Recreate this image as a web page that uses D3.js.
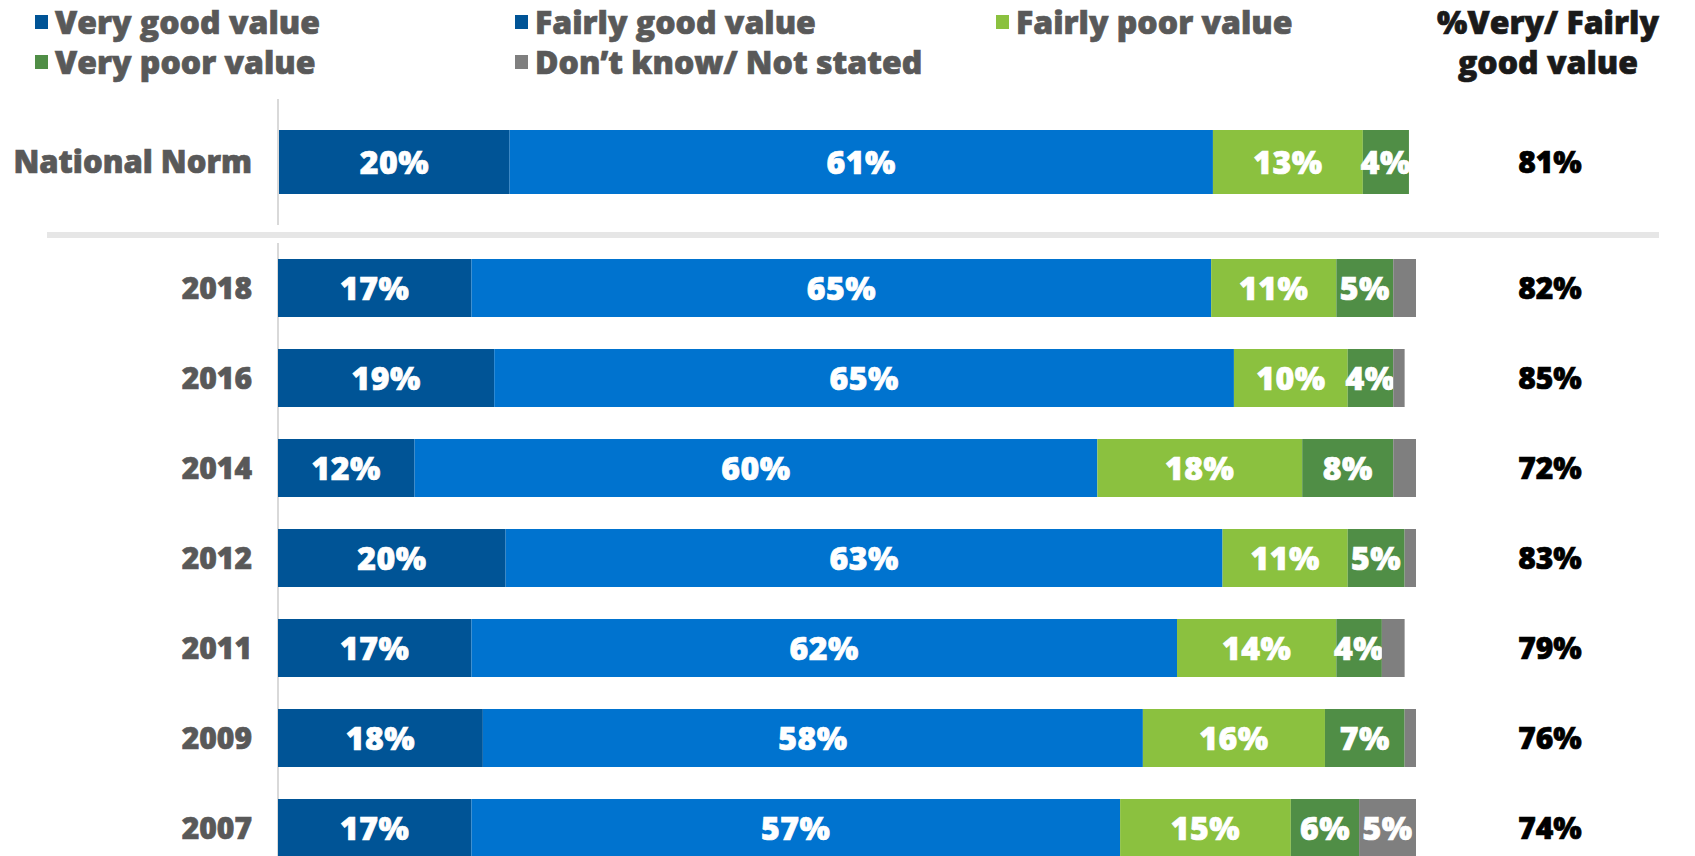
<!DOCTYPE html>
<html>
<head>
<meta charset="utf-8">
<script src="https://cdn.jsdelivr.net/npm/d3@7"></script>
<style>
  body { margin: 0; background: #fff; }
  svg { display: block; font-family: "Open Sans", Lato, sans-serif; font-weight: 800; }
</style>
</head>
<body>
<svg id="chart" width="1695" height="856"></svg>
<script>
// rows, top to bottom
var categories = ['National Norm', '2018', '2016', '2014', '2012', '2011', '2009', '2007']
var seriesNames = ['Very good value', 'Fairly good value', 'Fairly poor value', 'Very poor value', 'Don’t know/ Not stated']

// % per series, same order as categories
var veryGood = [20, 17, 19, 12, 20, 17, 18, 17]
var fairlyGood = [61, 65, 65, 60, 63, 62, 58, 57]
var fairlyPoor = [13, 11, 10, 18, 11, 14, 16, 15]
var veryPoor = [4, 5, 4, 8, 5, 4, 7, 6]
var dontKnow = [0, 2, 1, 2, 1, 2, 1, 5]

// right hand column
var netGoodTitle = ['%Very/ Fairly', 'good value']
var netGood = [81, 82, 85, 72, 83, 79, 76, 74]

;(function () {
  var width = 1695
  var height = 856
  var colors = ['#005496', '#0073cf', '#8bc13f', '#508e46', '#7f7f7f']
  // the legend swatch for "fairly good" is the dark blue in the original
  var legendColors = ['#005496', '#005496', '#8bc13f', '#508e46', '#7f7f7f']

  var rows = categories.map(function (c, i) {
    return {cat: c, vals: [veryGood[i], fairlyGood[i], fairlyPoor[i], veryPoor[i], dontKnow[i]], net: netGood[i]}
  })

  var svg = d3.select('#chart')

  // heavier look, closer to the black weight of the original
  function heavy (sel, col) {
    sel.attr('fill', col)
        .attr('stroke', col)
        .attr('stroke-width', 0.7)
  }

  /*
      --------------------------------------
      Scales
  */
  var x = d3.scaleLinear()
      .domain([0, 100])
      .range([278, 1416])

  // the norm row was pasted from another chart, slightly wider scale
  var xNorm = d3.scaleLinear()
      .domain([0, 100])
      .range([279, 1432])

  var yNorm = d3.scaleBand()
      .domain(categories.slice(0, 1))
      .range([130, 194])

  var yYears = d3.scaleBand()
      .domain(categories.slice(1))
      .range([259, 857])
      .paddingInner(32 / 90)
      .paddingOuter(0)

  function isNorm (cat) { return cat === categories[0] }
  function yPos (cat) { return isNorm(cat) ? yNorm(cat) : yYears(cat) }
  function bandH (cat) { return isNorm(cat) ? yNorm.bandwidth() : yYears.bandwidth() }

  /*
      --------------------------------------
      Axis line + separator
  */
  svg.append('line')
      .attr('x1', 278).attr('x2', 278)
      .attr('y1', 99).attr('y2', 225)
      .attr('stroke', '#d9d9d9')
      .attr('stroke-width', 2)

  svg.append('line')
      .attr('x1', 278).attr('x2', 278)
      .attr('y1', 243).attr('y2', height)
      .attr('stroke', '#d9d9d9')
      .attr('stroke-width', 2)

  svg.append('rect')
      .attr('x', 47)
      .attr('y', 232)
      .attr('width', 1612)
      .attr('height', 6)
      .attr('fill', '#e6e6e6')

  /*
      --------------------------------------
      Stacked bars
  */
  var rowG = svg.selectAll('.row')
      .data(rows)
      .enter()
      .append('g')
      .classed('row', true)
      .attr('transform', d => `translate(0,${yPos(d.cat)})`)

  var segs = rowG.selectAll('.seg')
      .data(function (d) {
        var acc = 0
        var sx = isNorm(d.cat) ? xNorm : x
        return d.vals.map(function (v, k) {
          var s = {k: k, a: sx(acc), b: sx(acc + v), v: v, h: bandH(d.cat)}
          acc += v
          return s
        })
      })
      .enter()
      .append('g')
      .classed('seg', true)

  segs.append('rect')
      .attr('x', d => d.a)
      .attr('y', 0)
      .attr('width', d => d.b - d.a)
      .attr('height', d => d.h)
      .attr('fill', d => colors[d.k])

  segs.filter(d => d.v >= 3)
      .append('text')
      .attr('x', d => (d.a + d.b) / 2)
      .attr('y', d => d.h / 2)
      .attr('dy', '0.36em')
      .attr('text-anchor', 'middle')
      .style('font-size', '32px')
      .style('letter-spacing', '0.5px')
      .call(heavy, '#fff')
      .text(d => d.v + '%')

  // category labels
  rowG.append('text')
      .attr('x', 252)
      .attr('y', d => bandH(d.cat) / 2)
      .attr('dy', '0.36em')
      .attr('text-anchor', 'end')
      .style('font-size', d => isNorm(d.cat) ? '31px' : '30px')
      .call(heavy, '#595959')
      .text(d => d.cat)

  // net good column
  rowG.append('text')
      .attr('x', 1550)
      .attr('y', d => bandH(d.cat) / 2)
      .attr('dy', '0.36em')
      .attr('text-anchor', 'middle')
      .style('font-size', '30px')
      .call(heavy, '#000')
      .text(d => d.net + '%')

  svg.selectAll('.nethead')
      .data(netGoodTitle)
      .enter()
      .append('text')
      .classed('nethead', true)
      .attr('x', 1548)
      .attr('y', (d, i) => 22 + i * 40)
      .attr('dy', '0.36em')
      .attr('text-anchor', 'middle')
      .style('font-size', '32px')
      .call(heavy, '#1a1a1a')
      .text(d => d)

  /*
      --------------------------------------
      Legend
  */
  var legendPos = [[35, 22], [515, 22], [996, 22], [35, 62], [515, 62]]

  var leg = svg.selectAll('.legend')
      .data(seriesNames)
      .enter()
      .append('g')
      .classed('legend', true)
      .attr('transform', (d, i) => `translate(${legendPos[i][0]},${legendPos[i][1]})`)

  leg.append('rect')
      .attr('x', 0)
      .attr('y', -7)
      .attr('width', 13)
      .attr('height', 14)
      .attr('fill', (d, i) => legendColors[i])

  leg.append('text')
      .attr('x', 20)
      .attr('y', 0)
      .attr('dy', '0.36em')
      .style('font-size', '32px')
      .call(heavy, '#595959')
      .text(d => d)
})()
</script>
</body>
</html>
